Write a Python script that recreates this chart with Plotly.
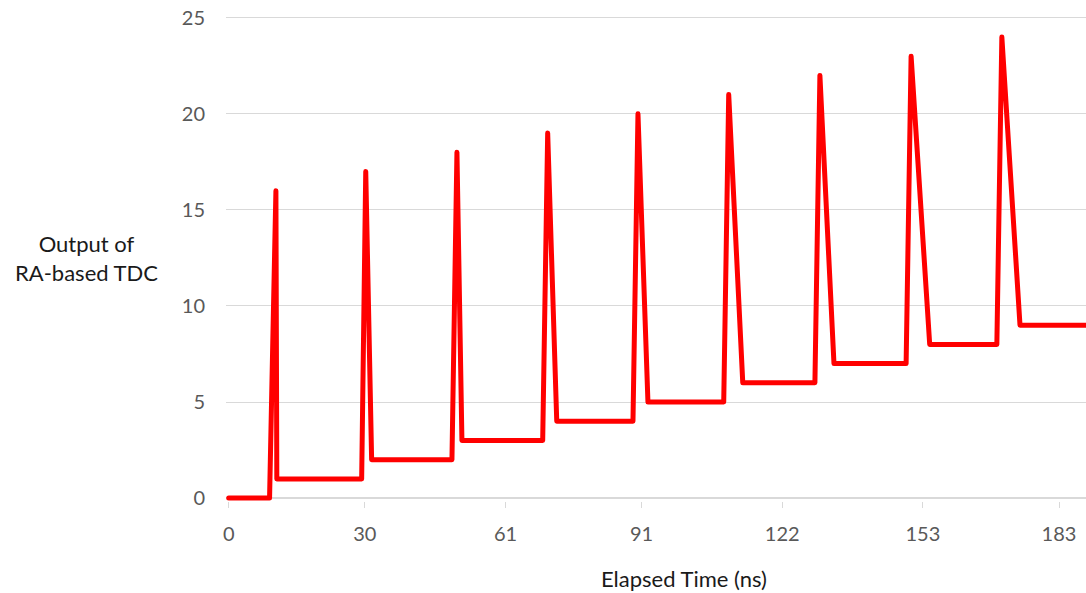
import plotly.graph_objects as go

# Elapsed time (ns) at each breakpoint of the TDC output trace
elapsed_ns = [0, 9.0, 10.4, 10.6, 29.3, 30.2, 31.5, 49.2, 50.3, 51.4,
              69.2, 70.3, 72.3, 89.1, 90.2, 92.4, 109.1, 110.2, 113.3,
              129.2, 130.3, 133.4, 149.3, 150.4, 154.5, 169.3, 170.4, 174.4, 189.5]
# Output of RA-based TDC
tdc_output = [0, 0, 16, 1, 1, 17, 2, 2, 18, 3,
              3, 19, 4, 4, 20, 5, 5, 21, 6,
              6, 22, 7, 7, 23, 8, 8, 24, 9, 9]

x_tick_vals = [0, 30, 61, 91, 122, 153, 183]
x_tick_text = ["0", "30", "61", "91", "122", "153", "183"]
y_tick_vals = [0, 5, 10, 15, 20, 25]

FONT = "Lato"
TICK_COLOR = "#595959"
GRID = "#d9d9d9"

fig = go.Figure()
fig.add_trace(go.Scatter(
    x=elapsed_ns, y=tdc_output, mode="lines",
    line=dict(color="#ff0000", width=5),
    hoverinfo="skip", showlegend=False,
))

fig.update_layout(
    width=1086, height=593,
    margin=dict(l=226, r=0, t=12, b=92),
    paper_bgcolor="white", plot_bgcolor="white",
    font=dict(family=FONT, size=20, color=TICK_COLOR),
    showlegend=False,
)
fig.update_xaxes(
    range=[-0.6, 188.95],
    tickvals=x_tick_vals, ticktext=x_tick_text,
    showgrid=False, zeroline=False, showline=False,
    ticks="outside", ticklen=6, tickwidth=1, tickcolor=GRID,
    ticklabelstandoff=9,
    tickfont=dict(family=FONT, size=20, color=TICK_COLOR),
)
fig.update_yaxes(
    range=[-0.15, 25.3],
    tickvals=y_tick_vals,
    showgrid=True, gridcolor=GRID, gridwidth=1,
    zeroline=True, zerolinecolor=GRID, zerolinewidth=1.5,
    showline=False, ticks="",
    ticklabelstandoff=20,
    tickfont=dict(family=FONT, size=20, color=TICK_COLOR),
)

PLOT_H = 593 - 12 - 92
fig.add_annotation(
    text="Output of<br>RA-based TDC", xref="paper", yref="paper",
    x=(86 - 226) / 860, y=(593 - 92 - 257.5) / PLOT_H,
    xanchor="center", yanchor="middle", showarrow=False,
    font=dict(family=FONT, size=22, color="#1a1a1a"),
)
fig.add_annotation(
    text="Elapsed Time (ns)", xref="paper", yref="paper",
    x=(684 - 226) / 860, y=(593 - 92 - 578) / PLOT_H,
    xanchor="center", yanchor="middle", showarrow=False,
    font=dict(family=FONT, size=22, color="#1a1a1a"),
)

post = """
document.body.style.margin='0';
document.body.style.overflow='hidden';
document.querySelectorAll('.js-line').forEach(function(e){
  e.style.strokeLinejoin='round'; e.style.strokeLinecap='round';
});
"""
fig.write_html("out.html", post_script=post, config={"displayModeBar": False})
